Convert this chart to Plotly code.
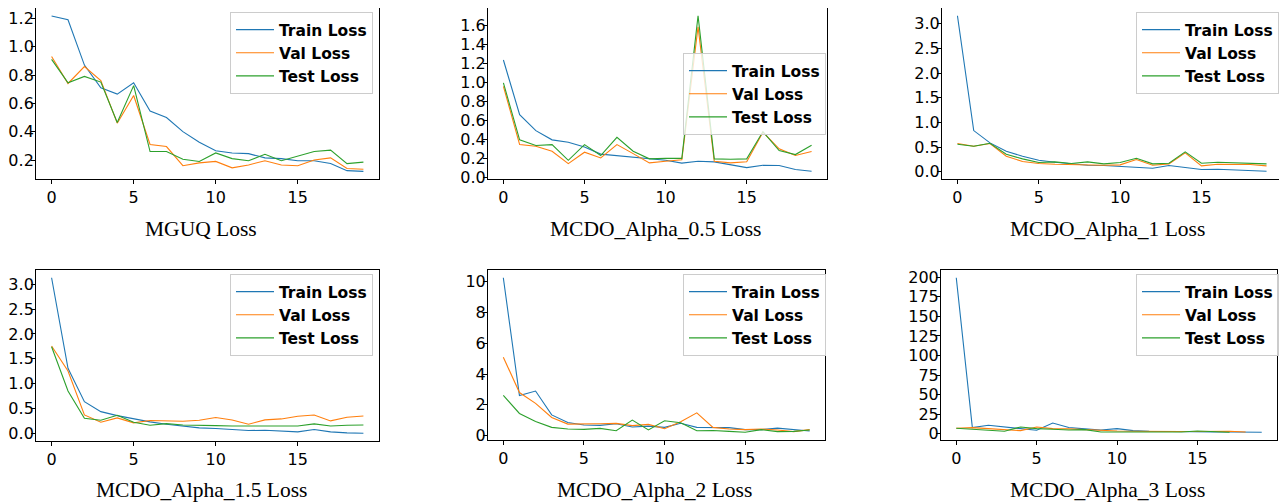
import plotly.graph_objects as go

# The page body has an 8px default margin; the figure is sized/positioned to compensate.
OFF = 8
W, H = 1287 - OFF, 503 - OFF

epochs = list(range(20))

mguq_train = [1.216, 1.19, 0.87, 0.71, 0.665, 0.745, 0.545, 0.50, 0.40, 0.325, 0.265, 0.25, 0.245, 0.215, 0.21, 0.195, 0.195, 0.175, 0.125, 0.12]
mguq_val = [0.93, 0.74, 0.86, 0.76, 0.46, 0.655, 0.31, 0.295, 0.16, 0.18, 0.19, 0.145, 0.165, 0.195, 0.165, 0.16, 0.20, 0.215, 0.14, 0.135]
mguq_test = [0.91, 0.745, 0.79, 0.75, 0.465, 0.725, 0.26, 0.26, 0.205, 0.19, 0.25, 0.21, 0.195, 0.24, 0.195, 0.225, 0.26, 0.27, 0.175, 0.185]

a05_train = [1.24, 0.665, 0.497, 0.40, 0.375, 0.325, 0.25, 0.235, 0.217, 0.20, 0.185, 0.155, 0.175, 0.168, 0.14, 0.108, 0.133, 0.13, 0.088, 0.07]
a05_val = [0.963, 0.35, 0.333, 0.28, 0.15, 0.27, 0.21, 0.35, 0.255, 0.158, 0.175, 0.19, 1.59, 0.175, 0.158, 0.17, 0.48, 0.305, 0.235, 0.277]
a05_test = [1.0, 0.40, 0.34, 0.35, 0.185, 0.35, 0.235, 0.427, 0.28, 0.20, 0.205, 0.205, 1.705, 0.20, 0.196, 0.20, 0.487, 0.287, 0.245, 0.343]

a1_train = [3.16, 0.836, 0.587, 0.418, 0.317, 0.236, 0.196, 0.169, 0.135, 0.128, 0.115, 0.10, 0.074, 0.128, 0.08, 0.047, 0.054, 0.04, 0.04, 0.013]
a1_val = [0.573, 0.52, 0.573, 0.317, 0.21, 0.169, 0.155, 0.148, 0.155, 0.135, 0.142, 0.25, 0.135, 0.162, 0.384, 0.121, 0.155, 0.155, 0.148, 0.121]
a1_test = [0.56, 0.52, 0.58, 0.357, 0.263, 0.189, 0.202, 0.169, 0.202, 0.162, 0.189, 0.276, 0.162, 0.175, 0.405, 0.175, 0.196, 0.182, 0.169, 0.162]

a15_train = [3.13, 1.306, 0.636, 0.435, 0.355, 0.288, 0.228, 0.18, 0.14, 0.107, 0.094, 0.074, 0.054, 0.06, 0.04, 0.027, 0.074, 0.027, 0.007, 0.0]
a15_val = [1.755, 1.253, 0.368, 0.221, 0.308, 0.208, 0.255, 0.255, 0.241, 0.261, 0.315, 0.268, 0.181, 0.268, 0.288, 0.342, 0.368, 0.248, 0.322, 0.348]
a15_test = [1.74, 0.85, 0.301, 0.261, 0.362, 0.221, 0.161, 0.194, 0.167, 0.154, 0.154, 0.147, 0.147, 0.161, 0.161, 0.147, 0.188, 0.147, 0.161, 0.167]

a2_train = [10.26, 2.6, 2.9, 1.35, 0.86, 0.69, 0.67, 0.77, 0.56, 0.62, 0.54, 0.80, 0.54, 0.52, 0.52, 0.39, 0.39, 0.49, 0.41, 0.30]
a2_val = [5.1, 2.8, 2.1, 1.18, 0.75, 0.75, 0.77, 0.80, 0.65, 0.73, 0.45, 0.90, 1.48, 0.54, 0.43, 0.39, 0.43, 0.37, 0.26, 0.39]
a2_test = [2.62, 1.44, 0.92, 0.54, 0.43, 0.41, 0.47, 0.32, 1.01, 0.37, 0.97, 0.84, 0.32, 0.34, 0.28, 0.22, 0.39, 0.26, 0.28, 0.37]

a3_train = [199.5, 7.7, 10.6, 8.5, 6.8, 4.3, 13.6, 7.7, 6.0, 4.7, 6.4, 3.8, 3.0, 2.6, 2.1, 2.1, 2.1, 2.1, 1.7, 1.7]
a3_val = [6.8, 7.7, 6.4, 5.1, 3.8, 8.5, 6.4, 6.0, 5.1, 3.8, 3.4, 3.0, 2.6, 3.0, 2.6, 2.6, 3.0, 3.0, 2.1]
a3_test = [6.8, 5.5, 3.4, 3.0, 8.5, 6.4, 5.5, 4.7, 5.1, 2.1, 2.1, 2.1, 2.6, 1.7, 2.1, 3.4, 2.1, 1.7]

titles = ["MGUQ Loss", "MCDO_Alpha_0.5 Loss", "MCDO_Alpha_1 Loss",
          "MCDO_Alpha_1.5 Loss", "MCDO_Alpha_2 Loss", "MCDO_Alpha_3 Loss"]
series_names = ["Train Loss", "Val Loss", "Test Loss"]
colors = ["#1f77b4", "#ff7f0e", "#2ca02c"]

panels = [
    (mguq_train, mguq_val, mguq_test),
    (a05_train, a05_val, a05_test),
    (a1_train, a1_val, a1_test),
    (a15_train, a15_val, a15_test),
    (a2_train, a2_val, a2_test),
    (a3_train, a3_val, a3_test),
]

# layout in screen pixels: plot area (x0, x1, y0, y1), legend (left, first-text centre), title (cx, cy)
boxes = [
    (36, 379, 5, 179), (488, 827, 8, 179), (942, 1282, 8, 179),
    (36, 379, 270, 441), (488, 825, 270, 440), (941, 1277, 270, 440),
]
legend_pos = [(229, 29), (682, 70), (1135, 29), (229, 291), (682, 291), (1135, 291)]
title_pos = [(201, 229), (655, 229), (1107, 229), (201, 490), (654, 490), (1107, 490)]
yticks = [
    ([0.2, 0.4, 0.6, 0.8, 1.0, 1.2], ".1f"),
    ([0.0, 0.2, 0.4, 0.6, 0.8, 1.0, 1.2, 1.4, 1.6], ".1f"),
    ([0.0, 0.5, 1.0, 1.5, 2.0, 2.5, 3.0], ".1f"),
    ([0.0, 0.5, 1.0, 1.5, 2.0, 2.5, 3.0], ".1f"),
    ([0, 2, 4, 6, 8, 10], "d"),
    ([0, 25, 50, 75, 100, 125, 150, 175, 200], "d"),
]
# observed y limits where they differ from the automatic 5% padding
ylims = [(0.066, 1.294), None, None, None, None, None]


def px(v):
    return min(1.0, max(0.0, (v - OFF) / W))


def py(v):
    return min(1.0, max(0.0, 1 - (v - OFF) / H))


fig = go.Figure()
layout = dict(
    width=W, height=H, margin=dict(l=0, r=0, t=0, b=0, autoexpand=False),
    paper_bgcolor="white", plot_bgcolor="white", showlegend=True,
)
annotations = []
tickfont = dict(family="DejaVu Sans", size=16, color="black")

for i, (data, box, lp, tp, (yt, fmt), title, yl) in enumerate(
        zip(panels, boxes, legend_pos, title_pos, yticks, titles, ylims)):
    n = i + 1
    xa = "xaxis" if n == 1 else f"xaxis{n}"
    ya = "yaxis" if n == 1 else f"yaxis{n}"
    lg = "legend" if n == 1 else f"legend{n}"
    for vals, name, c in zip(data, series_names, colors):
        fig.add_trace(go.Scatter(
            x=epochs[:len(vals)], y=vals, mode="lines", name=name,
            line=dict(color=c, width=1.1), xaxis=f"x{n}" if n > 1 else "x",
            yaxis=f"y{n}" if n > 1 else "y", legend=lg,
        ))
    if yl is None:
        allv = [v for s in data for v in s]
        lo, hi = min(allv), max(allv)
        pad = (hi - lo) * 0.05
        ylo, yhi = lo - pad, hi + pad
    else:
        ylo, yhi = yl
    x0, x1, y0, y1 = box
    # if the top edge falls into the page margin, trim the visible range to keep the scale
    if y0 < OFF:
        per_px = (yhi - ylo) / (y1 - y0)
        yhi -= (OFF - y0) * per_px
        y0 = OFF
    common = dict(ticks="outside", ticklen=4, tickwidth=1, tickcolor="black",
                  showline=True, linecolor="black", linewidth=1, mirror=True,
                  showgrid=False, zeroline=False, tickfont=tickfont,
                  ticklabeloverflow="allow")
    layout[xa] = dict(
        domain=[px(x0), px(x1)], range=[-0.95, 19.95],
        anchor=f"y{n}" if n > 1 else "y", tickvals=[0, 5, 10, 15], **common,
    )
    layout[ya] = dict(
        domain=[py(y1), py(y0)], range=[ylo, yhi],
        anchor=f"x{n}" if n > 1 else "x", tickvals=yt, tickformat=fmt,
        ticklabelstandoff=-6, **common,
    )
    layout[lg] = dict(
        x=px(lp[0] + 1), y=py(lp[1] - 17), xanchor="left", yanchor="top",
        bgcolor="rgba(255,255,255,0.8)", bordercolor="#cccccc", borderwidth=1,
        font=dict(family="DejaVu Sans", size=15.5, color="black", weight="bold"),
        traceorder="normal", itemwidth=38,
    )
    annotations.append(dict(
        text=title, x=px(tp[0]), y=py(tp[1]), xref="paper", yref="paper",
        xanchor="center", yanchor="middle", showarrow=False,
        font=dict(family="Liberation Serif", size=21.5, color="black"),
    ))

layout["annotations"] = annotations
fig.update_layout(**layout)
fig.write_html("out.html")
